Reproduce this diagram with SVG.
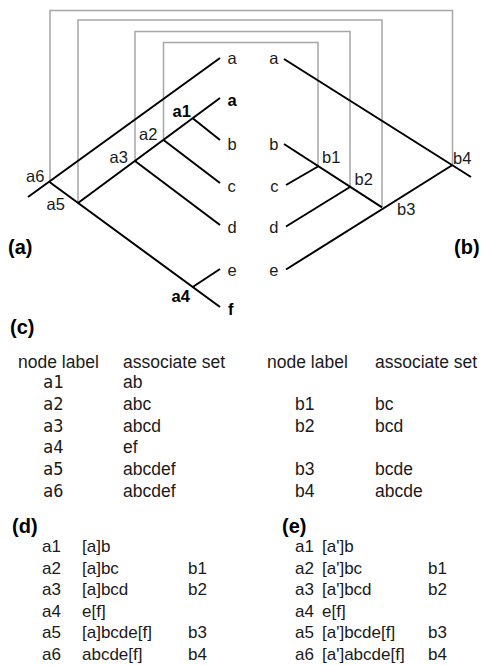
<svg xmlns="http://www.w3.org/2000/svg" width="484" height="665" viewBox="0 0 484 665">
<style>
.bg{fill:#fff}
.br{stroke:#000;stroke-width:2;fill:none;stroke-linecap:butt}
.gr{stroke:#a6a6a6;stroke-width:1.5;fill:none}
text{font-family:"Liberation Sans",Arial,sans-serif;fill:#1a1a1a}
.t{font-size:16.5px}
.tb{font-size:16.5px;font-weight:bold;fill:#000}
.pl{font-size:20px;font-weight:bold;fill:#000}
.tc{font-size:17.5px}
.mono{font-family:"DejaVu Sans Mono","Liberation Mono",monospace;font-size:17px}
.td{font-size:17px}
</style>
<rect class="bg" x="0" y="0" width="484" height="665"/>
<g id="connectors">
<path class="gr" d="M50,182 V10.5 H452.5 V165"/>
<path class="gr" d="M78,203 V20 H382 V207"/>
<path class="gr" d="M135,161 V31.5 H350 V187"/>
<path class="gr" d="M163.5,140 V42.5 H318 V166.5"/>
<path class="br" d="M28,197 L220,58"/>
<path class="br" d="M49.5,182 L220,307"/>
<path class="br" d="M78,203 L220,98"/>
<path class="br" d="M192.7,118.2 L220,140"/>
<path class="br" d="M163.5,140 L220,183"/>
<path class="br" d="M135,161 L220,225"/>
<path class="br" d="M192.7,287 L220,269"/>
<path class="br" d="M284,59 L471,177"/>
<path class="br" d="M284,144 L382,207.3"/>
<path class="br" d="M286,185 L318,166.5"/>
<path class="br" d="M286,226.5 L350,187"/>
<path class="br" d="M286,269.5 L452.5,165"/>
</g>
<g id="tree-a">
<g id="a6"><text class="t" x="26" y="181.5">a6</text></g>
<g id="a5"><text class="t" x="46.5" y="210">a5</text></g>
<g id="a3"><text class="t" x="109.5" y="163">a3</text></g>
<g id="a2"><text class="t" x="139" y="140">a2</text></g>
<g id="a1"><text class="tb" x="172.5" y="117">a1</text></g>
<g id="a4"><text class="tb" x="171.5" y="302">a4</text></g>
<g id="leaf-a-1"><text class="t" x="227.5" y="64">a</text></g>
<g id="leaf-a-2"><text class="tb" x="227.5" y="106">a</text></g>
<g id="leaf-b"><text class="t" x="227.5" y="150">b</text></g>
<g id="leaf-c"><text class="t" x="227.5" y="192">c</text></g>
<g id="leaf-d"><text class="t" x="227.5" y="233">d</text></g>
<g id="leaf-e"><text class="t" x="227.5" y="276">e</text></g>
<g id="leaf-f"><text class="tb" x="228" y="315">f</text></g>
</g>
<g id="tree-b">
<g id="b1"><text class="t" x="322" y="163">b1</text></g>
<g id="b2"><text class="t" x="354.5" y="185">b2</text></g>
<g id="b3"><text class="t" x="397" y="215">b3</text></g>
<g id="b4"><text class="t" x="453" y="164">b4</text></g>
<g id="rleaf-a"><text class="t" x="278.5" y="64" text-anchor="end">a</text></g>
<g id="rleaf-b"><text class="t" x="278.5" y="150" text-anchor="end">b</text></g>
<g id="rleaf-c"><text class="t" x="278.5" y="192" text-anchor="end">c</text></g>
<g id="rleaf-d"><text class="t" x="278.5" y="233" text-anchor="end">d</text></g>
<g id="rleaf-e"><text class="t" x="278.5" y="276" text-anchor="end">e</text></g>
</g>
<g id="panel-labels">
<text class="pl" x="8" y="254">(a)</text>
<text class="pl" x="454" y="254">(b)</text>
<text class="pl" x="10" y="334">(c)</text>
<text class="pl" x="12" y="533">(d)</text>
<text class="pl" x="282" y="533">(e)</text>
</g>
<g id="table-c">
<text class="tc" x="18" y="368">node label</text>
<text class="tc" x="123" y="368">associate set</text>
<text class="tc" x="267" y="368">node label</text>
<text class="tc" x="375" y="368">associate set</text>
<text class="mono" x="43" y="388">a1</text><text class="tc" x="123" y="388">ab</text>
<text class="mono" x="43" y="410">a2</text><text class="tc" x="123" y="410">abc</text>
<text class="mono" x="43" y="432">a3</text><text class="tc" x="123" y="432">abcd</text>
<text class="mono" x="43" y="453">a4</text><text class="tc" x="123" y="453">ef</text>
<text class="mono" x="43" y="475">a5</text><text class="tc" x="123" y="475">abcdef</text>
<text class="mono" x="43" y="497">a6</text><text class="tc" x="123" y="497">abcdef</text>
<text class="tc" x="295" y="410">b1</text><text class="tc" x="375" y="410">bc</text>
<text class="tc" x="295" y="432">b2</text><text class="tc" x="375" y="432">bcd</text>
<text class="tc" x="295" y="475">b3</text><text class="tc" x="375" y="475">bcde</text>
<text class="tc" x="295" y="497">b4</text><text class="tc" x="375" y="497">abcde</text>
</g>
<g id="table-d">
<text class="td" x="42" y="552">a1</text><text class="td" x="82" y="552">[a]b</text>
<text class="td" x="42" y="573.5">a2</text><text class="td" x="82" y="573.5">[a]bc</text><text class="td" x="188" y="573.5">b1</text>
<text class="td" x="42" y="595">a3</text><text class="td" x="82" y="595">[a]bcd</text><text class="td" x="188" y="595">b2</text>
<text class="td" x="42" y="616.5">a4</text><text class="td" x="82" y="616.5">e[f]</text>
<text class="td" x="42" y="638">a5</text><text class="td" x="82" y="638">[a]bcde[f]</text><text class="td" x="188" y="638">b3</text>
<text class="td" x="42" y="659.5">a6</text><text class="td" x="82" y="659.5">abcde[f]</text><text class="td" x="188" y="659.5">b4</text>
</g>
<g id="table-e">
<text class="td" x="295" y="552">a1</text><text class="td" x="322" y="552">[a']b</text>
<text class="td" x="295" y="573.5">a2</text><text class="td" x="322" y="573.5">[a']bc</text><text class="td" x="428" y="573.5">b1</text>
<text class="td" x="295" y="595">a3</text><text class="td" x="322" y="595">[a']bcd</text><text class="td" x="428" y="595">b2</text>
<text class="td" x="295" y="616.5">a4</text><text class="td" x="322" y="616.5">e[f]</text>
<text class="td" x="295" y="638">a5</text><text class="td" x="322" y="638">[a']bcde[f]</text><text class="td" x="428" y="638">b3</text>
<text class="td" x="295" y="659.5">a6</text><text class="td" x="322" y="659.5">[a']abcde[f]</text><text class="td" x="428" y="659.5">b4</text>
</g>
</svg>
